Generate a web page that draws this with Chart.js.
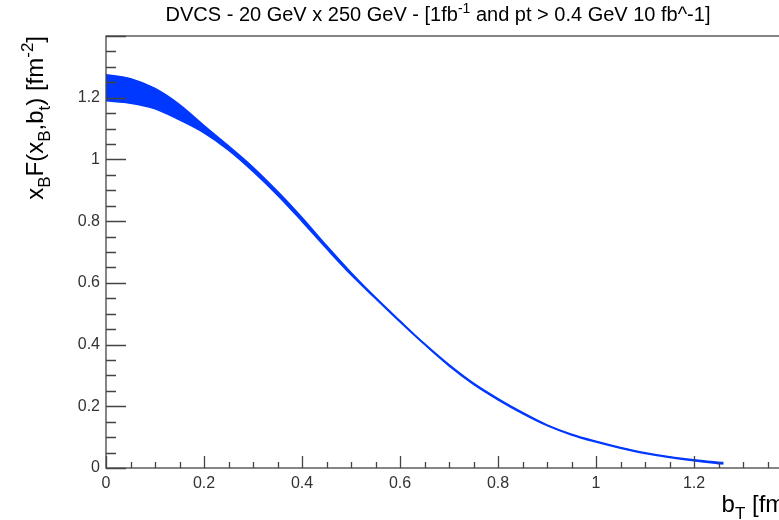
<!DOCTYPE html>
<html>
<head>
<meta charset="utf-8">
<script src="https://cdn.jsdelivr.net/npm/chart.js@4"></script>
<style>
  html, body { margin: 0; padding: 0; background: #fff; overflow: hidden; }
  canvas { display: block; }
</style>
</head>
<body>
<canvas id="bandChart" width="800" height="520"></canvas>
<script>
// b_T [fm]
const bT = [0, 0.05, 0.1, 0.15, 0.2, 0.25, 0.3, 0.35, 0.4, 0.45, 0.5, 0.55, 0.6, 0.65,
            0.7, 0.75, 0.8, 0.85, 0.9, 0.95, 1.0, 1.05, 1.1, 1.15, 1.2, 1.25, 1.26];
// upper / lower edge of the band
const upperBand = [1.275, 1.262, 1.230, 1.178, 1.110, 1.044, 0.975, 0.897, 0.812, 0.721, 0.634, 0.553, 0.477, 0.403,
                   0.335, 0.275, 0.225, 0.180, 0.140, 0.110, 0.087, 0.067, 0.050, 0.037, 0.027, 0.019, 0.018];
const lowerBand = [1.19, 1.182, 1.164, 1.128, 1.086, 1.030, 0.961, 0.884, 0.799, 0.711, 0.626, 0.549, 0.473, 0.400,
                   0.331, 0.271, 0.221, 0.176, 0.137, 0.107, 0.084, 0.064, 0.047, 0.034, 0.023, 0.014, 0.013];
const xRange = [0, 1.4];
const yRange = [0, 1.4];
const majorStep = 0.2;
const minorStep = 0.05;

const BLUE = '#0038ff';
const FONT = '"Liberation Sans", Arial, sans-serif';

const pts = ys => bT.map((b, i) => ({ x: b, y: ys[i] }));

// draws text with sub/superscripts; parts = [[text, shift]] shift: 0 normal, 1 sub, -1 sup
function drawRich(ctx, parts, x, y, size, align) {
  const fontFor = p => (p[1] ? Math.round(size * 0.7) : size) + 'px ' + FONT;
  const widths = parts.map(p => { ctx.font = fontFor(p); return ctx.measureText(p[0]).width; });
  const total = widths.reduce((a, b) => a + b, 0);
  let cx = align === 'right' ? x - total : align === 'center' ? x - total / 2 : x;
  ctx.textAlign = 'left';
  ctx.textBaseline = 'alphabetic';
  parts.forEach((p, i) => {
    ctx.font = fontFor(p);
    const dy = p[1] === 1 ? size * 0.28 : p[1] === -1 ? -size * 0.42 : 0;
    ctx.fillText(p[0], cx, y + dy);
    cx += widths[i];
  });
}

const rootFrame = {
  id: 'rootFrame',
  afterDraw(chart) {
    const { ctx, chartArea: a, scales: { x, y } } = chart;
    ctx.save();
    ctx.strokeStyle = '#444';
    ctx.lineWidth = 1.3;
    ctx.strokeRect(a.left, a.top, a.right - a.left, a.bottom - a.top);
    ctx.beginPath();
    // inward ticks
    for (let v = xRange[0]; v <= xRange[1] + 1e-9; v += minorStep) {
      const major = Math.abs(v / majorStep - Math.round(v / majorStep)) < 1e-6;
      const px = Math.round(x.getPixelForValue(v)) + 0.5;
      ctx.moveTo(px, a.bottom);
      ctx.lineTo(px, a.bottom - (major ? 12 : 6));
    }
    for (let v = yRange[0]; v <= yRange[1] + 1e-9; v += minorStep) {
      const major = Math.abs(v / majorStep - Math.round(v / majorStep)) < 1e-6;
      const py = Math.round(y.getPixelForValue(v)) + 0.5;
      ctx.moveTo(a.left, py);
      ctx.lineTo(a.left + (major ? 20 : 10), py);
    }
    ctx.stroke();

    ctx.fillStyle = '#000';
    drawRich(ctx, [['DVCS - 20 GeV x 250 GeV - [1fb', 0], ['-1', -1],
                   [' and pt > 0.4 GeV 10 fb^-1]', 0]], 438, 21, 20, 'center');
    drawRich(ctx, [['b', 0], ['T', 1], [' [fm]', 0]], a.right, 512, 24, 'right');
    ctx.translate(43, a.top);
    ctx.rotate(-Math.PI / 2);
    drawRich(ctx, [['x', 0], ['B', 1], ['F(x', 0], ['B', 1], [',b', 0], ['t', 1],
                   [') [fm', 0], ['-2', -1], [']', 0]], 0, 0, 24, 'right');
    ctx.restore();
  }
};

const fmt = v => Math.abs(v - 1.4) < 1e-6 ? '' : String(Math.round(v * 10) / 10);

new Chart(document.getElementById('bandChart').getContext('2d'), {
  type: 'scatter',
  data: {
    datasets: [
      {
        label: 'upper',
        data: pts(upperBand),
        showLine: true,
        cubicInterpolationMode: 'monotone',
        borderColor: BLUE,
        borderWidth: 1.4,
        backgroundColor: BLUE,
        pointRadius: 0,
        fill: '+1'
      },
      {
        label: 'lower',
        data: pts(lowerBand),
        showLine: true,
        cubicInterpolationMode: 'monotone',
        borderColor: BLUE,
        borderWidth: 1.4,
        pointRadius: 0,
        fill: false
      }
    ]
  },
  options: {
    responsive: false,
    animation: false,
    layout: { padding: { left: 0, top: 36, right: 8, bottom: 0 } },
    plugins: { legend: { display: false }, tooltip: { enabled: false } },
    scales: {
      x: {
        type: 'linear',
        min: xRange[0], max: xRange[1],
        grid: { display: false, drawTicks: false },
        border: { display: false },
        ticks: { stepSize: majorStep, padding: 6, color: '#333', maxRotation: 0,
                 font: { family: FONT, size: 16 }, callback: fmt },
        afterFit: s => { s.height = 52; }
      },
      y: {
        min: yRange[0], max: yRange[1],
        grid: { display: false, drawTicks: false },
        border: { display: false },
        ticks: { stepSize: majorStep, padding: 6, color: '#333',
                 font: { family: FONT, size: 16 }, callback: fmt },
        afterFit: s => { s.width = 106; }
      }
    }
  },
  plugins: [rootFrame]
});
</script>
</body>
</html>
